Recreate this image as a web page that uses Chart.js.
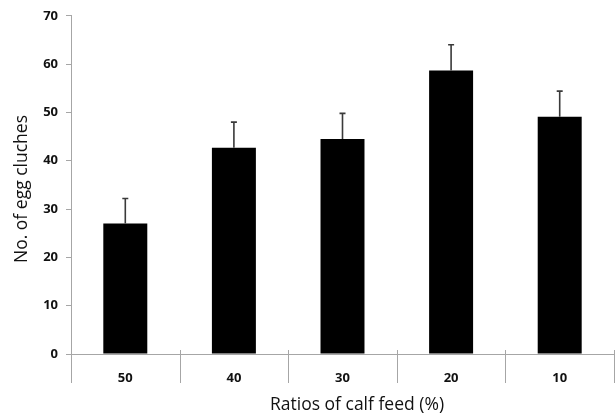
<!DOCTYPE html>
<html>
<head>
<meta charset="utf-8">
<script src="https://cdn.jsdelivr.net/npm/chart.js@4/dist/chart.umd.min.js"></script>
<style>
  body { margin: 0; background: #fff; }
  #wrap { width: 615px; height: 417px; position: relative; }
</style>
</head>
<body>
<div id="wrap"><canvas id="myChart"></canvas></div>
<script>
// feed ratio categories and mean egg clutches (+ SE, upper only)
var ratios = ["50", "40", "30", "20", "10"];
var clutches = [27.0, 42.7, 44.5, 58.7, 49.1];
var errors = [5.2, 5.3, 5.3, 5.3, 5.3];
var yTicks = [0, 10, 20, 30, 40, 50, 60, 70];

var axisGray = "#a6a6a6";

// upper error bars with a small cap
var errorBars = {
  id: "errorBars",
  afterDatasetsDraw: function (chart) {
    var ctx = chart.ctx;
    var yScale = chart.scales.y;
    var meta = chart.getDatasetMeta(0);
    ctx.save();
    ctx.strokeStyle = "#3a3a3a";
    ctx.lineWidth = 1.6;
    meta.data.forEach(function (bar, i) {
      var top = yScale.getPixelForValue(clutches[i] + errors[i]);
      ctx.beginPath();
      ctx.moveTo(bar.x, bar.y);
      ctx.lineTo(bar.x, top);
      ctx.moveTo(bar.x - 3, top);
      ctx.lineTo(bar.x + 3, top);
      ctx.stroke();
    });
    ctx.restore();
  }
};

// category separators under the x axis, and the axis titles
var axisExtras = {
  id: "axisExtras",
  afterDraw: function (chart) {
    var ctx = chart.ctx;
    var xScale = chart.scales.x;
    var area = chart.chartArea;
    var n = ratios.length;
    var step = (xScale.right - xScale.left) / n;
    ctx.save();
    ctx.strokeStyle = axisGray;
    ctx.lineWidth = 1;
    for (var i = 0; i <= n; i++) {
      var x = Math.round(xScale.left + i * step) + 0.5;
      if (i == n) x = Math.min(x, chart.width - 0.5);
      ctx.beginPath();
      ctx.moveTo(x, area.bottom - 4);
      ctx.lineTo(x, area.bottom + 29);
      ctx.stroke();
    }

    ctx.fillStyle = "#111";
    ctx.font = "17.5px 'Open Sans'";
    ctx.textAlign = "center";
    ctx.textBaseline = "middle";
    ctx.fillText("Ratios of calf feed (%)", 357, 405);

    ctx.translate(22, 189);
    ctx.rotate(-Math.PI / 2);
    ctx.fillText("No. of egg cluches", 0, 0);
    ctx.restore();
  }
};

var ctx = document.getElementById("myChart").getContext("2d");
var chart = new Chart(ctx, {
  type: "bar",
  data: {
    labels: ratios,
    datasets: [
      {
        label: "No. of egg cluches",
        data: clutches,
        backgroundColor: "#000",
        borderWidth: 0,
        barPercentage: 0.405,
        categoryPercentage: 1.0
      }
    ]
  },
  options: {
    responsive: true,
    maintainAspectRatio: false,
    animation: false,
    layout: {
      padding: { top: 14, right: 1, bottom: 0, left: 0 }
    },
    plugins: {
      legend: { display: false },
      tooltip: { enabled: false }
    },
    scales: {
      x: {
        grid: { display: false, drawTicks: false },
        border: { display: true, color: axisGray, width: 1 },
        ticks: {
          color: "#111",
          padding: 16,
          font: { family: "'Open Sans'", size: 13, weight: "bold" }
        },
        afterFit: function (scale) { scale.height = 63; }
      },
      y: {
        min: 0,
        max: 70,
        afterBuildTicks: function (scale) {
          scale.ticks = yTicks.map(function (v) { return { value: v }; });
        },
        grid: {
          drawOnChartArea: false,
          drawTicks: true,
          tickLength: 5,
          color: axisGray
        },
        border: { display: true, color: axisGray, width: 1 },
        ticks: {
          color: "#111",
          padding: 8,
          font: { family: "'Open Sans'", size: 13, weight: "bold" }
        },
        afterFit: function (scale) { scale.width = 71; }
      }
    }
  },
  plugins: [errorBars, axisExtras]
});
</script>
</body>
</html>
